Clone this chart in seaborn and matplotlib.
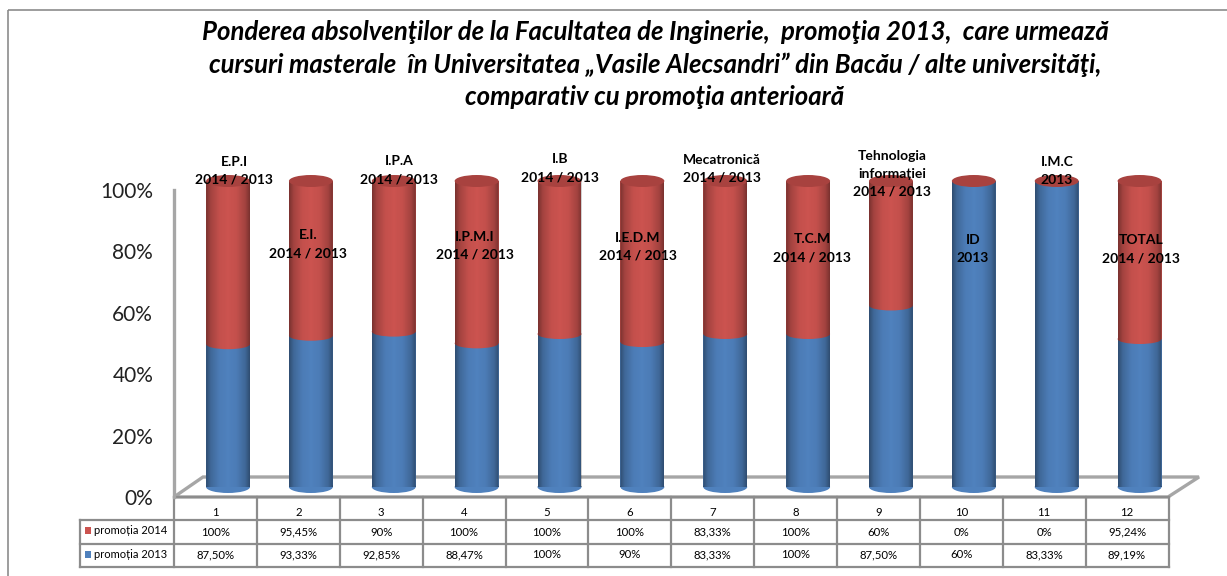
import numpy as np
import pandas as pd
import seaborn as sns
import matplotlib
matplotlib.use("Agg")
import matplotlib.pyplot as plt
from matplotlib.patches import Ellipse, Polygon, Rectangle
from matplotlib.path import Path
from matplotlib.colors import LinearSegmentedColormap

W, H = 1227, 576

# values as printed in the data table
categories = ["1", "2", "3", "4", "5", "6", "7", "8", "9", "10", "11", "12"]
promotia_2014 = [100, 95.45, 90, 100, 100, 100, 83.33, 100, 60, 0, 0, 95.24]
promotia_2013 = [87.50, 93.33, 92.85, 88.47, 100, 90, 83.33, 100, 87.50, 60, 83.33, 89.19]
labels_2014 = ["100%", "95,45%", "90%", "100%", "100%", "100%", "83,33%", "100%", "60%", "0%", "0%", "95,24%"]
labels_2013 = ["87,50%", "93,33%", "92,85%", "88,47%", "100%", "90%", "83,33%", "100%", "87,50%", "60%", "83,33%", "89,19%"]
bar_notes = ["E.P.I\n2014 / 2013", "E.I.\n2014 / 2013", "I.P.A\n2014 / 2013", "I.P.M.I\n2014 / 2013",
             "I.B\n2014 / 2013", "I.E.D.M\n2014 / 2013", "Mecatronică\n2014 / 2013", "T.C.M\n2014 / 2013",
             "Tehnologia\ninformației\n2014 / 2013", "ID\n2013", "I.M.C\n2013", "TOTAL\n2014 / 2013"]
note_pos = [(234, 171), (308, 244), (399, 170), (475, 246), (560, 168), (638, 247), (722, 169), (812, 248),
            (892, 174), (973, 249), (1057, 171), (1141, 249)]
title = ("Ponderea absolvenţilor de la Facultatea de Inginerie,  promoţia 2013,  care urmează\n"
         "cursuri masterale  în Universitatea „Vasile Alecsandri” din Bacău / alte universităţi,\n"
         "comparativ cu promoţia anterioară")

RED = "#cb534f"
BLUE = "#4f81bd"
GREY = "#a6a6a6"
LINE = "#8c8c8c"

plt.rcParams["font.family"] = ["Lato", "DejaVu Sans"]
fig = plt.figure(figsize=(W / 100, H / 100), dpi=100, facecolor="white")


def px_axes(x0, y_top, x1, y_bottom, **kw):
    return fig.add_axes([x0 / W, 1 - y_bottom / H, (x1 - x0) / W, (y_bottom - y_top) / H], **kw)


# pixel overlay for frame, floor and table
bg = px_axes(0, 0, W, H)
bg.set_xlim(0, W)
bg.set_ylim(H, 0)
bg.axis("off")
# frame runs off the picture on the right and at the bottom
bg.add_patch(Rectangle((8, 10), 1240, 590, fill=False, ec=LINE, lw=1.2))
bg.add_patch(Polygon([(174, 497), (203, 477), (1199, 477), (1168, 497)], closed=True, fc="white", ec=GREY, lw=2.4))
bg.text(655, 64.5, title, ha="center", va="center", fontsize=18.5, fontweight="bold", fontstyle="italic",
        linespacing=1.4, color="black")

# value axis on the back wall
wall = px_axes(174, 190, 1168, 497)
wall.patch.set_alpha(0)
wall.set_ylim(0, 1)
wall.set_xticks([])
wall.set_yticks(np.arange(0, 1.01, 0.2))
wall.set_yticklabels(["0%", "20%", "40%", "60%", "80%", "100%"], fontsize=15, color="#222222")
wall.tick_params(axis="y", length=0, pad=15)
sns.despine(ax=wall, top=True, right=True, bottom=True)
wall.spines["left"].set_color(GREY)
wall.spines["left"].set_linewidth(2.4)

# 100% stacked bars
share_2013 = np.array(promotia_2013) / (np.array(promotia_2013) + np.array(promotia_2014))
df = pd.DataFrame({"cat": categories, "total": np.ones(len(categories)), "share": share_2013})

ax = px_axes(186.6, 181, 1181, 487)
ax.patch.set_alpha(0)
sns.barplot(data=df, x="cat", y="total", color=RED, saturation=1, width=0.53, ax=ax)
sns.barplot(data=df, x="cat", y="share", color=BLUE, saturation=1, width=0.53, ax=ax)
ax.set_xlim(-0.5, 11.5)
ax.set_ylim(0, 1)
ax.axis("off")

# cylinder shading and elliptical ends
shade = LinearSegmentedColormap.from_list("shade", [(0.0, (0, 0, 0, 0.40)), (0.1, (0, 0, 0, 0.2)),
                                                    (0.3, (0, 0, 0, 0.04)), (0.5, (0, 0, 0, 0)),
                                                    (0.7, (0, 0, 0, 0.04)), (0.9, (0, 0, 0, 0.2)),
                                                    (1.0, (0, 0, 0, 0.40))])
grad = np.linspace(0, 1, 64).reshape(1, -1)
ell_h = 12 / 306
seam_h = 10 / 306
reds, blues = ax.patches[:12], ax.patches[12:24]
for red_bar, blue_bar, s in zip(reds, blues, share_2013):
    x0, w = red_bar.get_x(), red_bar.get_width()
    xc = x0 + w / 2
    base = Ellipse((xc, 0), w, ell_h, fc=BLUE, ec="none", clip_on=False)
    ax.add_patch(base)
    # red sits on the blue, so its rounded lower edge shows at the seam
    if s < 0.99:
        ax.add_patch(Ellipse((xc, s), w, seam_h, fc=RED, ec="none", zorder=2.5))
    im = ax.imshow(grad, extent=(x0, x0 + w, -ell_h / 2, 1), cmap=shade, aspect="auto", zorder=3)
    body = Path.unit_rectangle().transformed(matplotlib.transforms.Affine2D().scale(w, 1).translate(x0, 0))
    foot = Path.unit_circle().transformed(
        matplotlib.transforms.Affine2D().scale(w / 2, ell_h / 2).translate(xc, 0))
    im.set_clip_path(Path.make_compound_path(body, foot), transform=ax.transData)
    ax.add_patch(Ellipse((xc, 1), w, ell_h, fc="#a8423f", ec="none", zorder=4, clip_on=False))
ax.set_xlim(-0.5, 11.5)
ax.set_ylim(0, 1)

for note, (nx, ny) in zip(bar_notes, note_pos):
    fig.text(nx / W, 1 - ny / H, note, ha="center", va="center", fontsize=10, fontweight="bold",
             color="black", linespacing=1.6, zorder=6)

# data table under the chart
col_edges = np.linspace(174, 1168.5, 13)
row_edges = [497, 520, 544, 567]
for xe in col_edges:
    bg.plot([xe, xe], [row_edges[0], row_edges[-1]], color=LINE, lw=1.6)
for ye in row_edges:
    bg.plot([80 if ye != 497 else 174, 1168.5], [ye, ye], color=LINE, lw=1.6)
bg.plot([80, 80], [520, 567], color=LINE, lw=1.6)
for i in range(12):
    xc = (col_edges[i] + col_edges[i + 1]) / 2
    bg.text(xc, 512, categories[i], ha="center", va="center", fontsize=8.2)
    bg.text(xc, 532, labels_2014[i], ha="center", va="center", fontsize=8.2)
    bg.text(xc, 555, labels_2013[i], ha="center", va="center", fontsize=8.2)
bg.add_patch(Rectangle((85, 527), 6, 7, fc=RED, ec="none"))
bg.add_patch(Rectangle((85, 551), 6, 7, fc=BLUE, ec="none"))
bg.text(94, 531, "promoția 2014", ha="left", va="center", fontsize=8)
bg.text(94, 555, "promoția 2013", ha="left", va="center", fontsize=8)

fig.savefig("out.png", dpi=100)
